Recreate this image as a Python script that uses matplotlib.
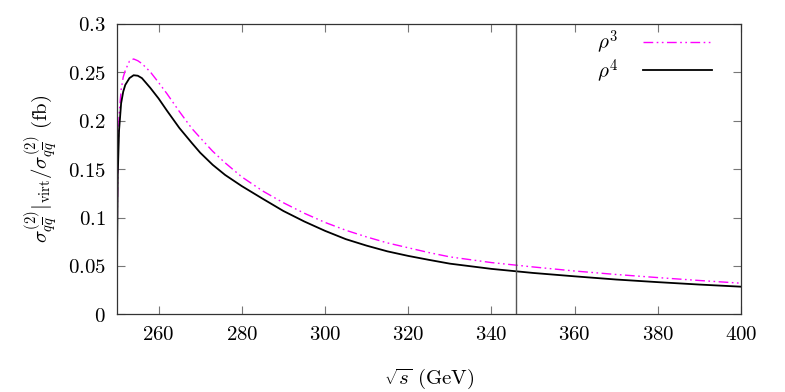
import matplotlib
matplotlib.use("Agg")
import matplotlib.pyplot as plt
from matplotlib.ticker import FixedLocator, FixedFormatter

plt.rcParams['mathtext.fontset'] = 'cm'
plt.rcParams['font.family'] = ['DejaVu Serif']

sqrt_s = [250, 250.05, 250.2, 250.5, 251, 251.5, 252, 253, 254, 255, 256, 258,
          260, 262, 265, 268, 270, 273, 276, 280, 285, 290, 295, 300, 305, 310,
          315, 320, 325, 330, 340, 350, 360, 370, 380, 390, 400]

rho3 = [0, 0.08, 0.155, 0.205, 0.232, 0.245, 0.252, 0.2615, 0.2638, 0.262, 0.259,
        0.2505, 0.2395, 0.228, 0.2095, 0.192, 0.1825, 0.1685, 0.1565, 0.142,
        0.1275, 0.1153, 0.1045, 0.095, 0.0869, 0.080, 0.0738, 0.0688, 0.0638,
        0.0594, 0.0535, 0.049, 0.0448, 0.0412, 0.0380, 0.0350, 0.0322]

rho4 = [0, 0.075, 0.145, 0.19, 0.218, 0.23, 0.237, 0.244, 0.247, 0.2465, 0.244,
        0.234, 0.223, 0.2105, 0.1925, 0.177, 0.167, 0.1545, 0.144, 0.1325,
        0.1195, 0.1068, 0.0960, 0.0863, 0.0777, 0.0710, 0.0651, 0.0604, 0.0563,
        0.0524, 0.0470, 0.0428, 0.0393, 0.0360, 0.0333, 0.0308, 0.0286]

threshold = 346

xticks = [260, 280, 300, 320, 340, 360, 380, 400]
xticklabels = ['260', '280', '300', '320', '340', '360', '380', '400']
yticks = [0, 0.05, 0.1, 0.15, 0.2, 0.25, 0.3]
yticklabels = ['0', '0.05', '0.1', '0.15', '0.2', '0.25', '0.3']

fig = plt.figure(figsize=(7.85, 3.92), dpi=100)
ax = fig.add_axes([0.149, 0.198, 0.795, 0.741])

ax.plot(sqrt_s, rho3, color='#ff00ff', lw=1.0, dashes=(7, 2.5, 1.2, 2.5, 1.2, 2.5),
        label=r'$\rho^3$')
ax.plot(sqrt_s, rho4, color='black', lw=1.3, label=r'$\rho^4$')
ax.axvline(threshold, color='#555555', lw=1.0)

ax.set_xlim(250, 400)
ax.set_ylim(0, 0.3)

ax.xaxis.set_major_locator(FixedLocator(xticks))
ax.xaxis.set_major_formatter(FixedFormatter(['$%s$' % t for t in xticklabels]))
ax.yaxis.set_major_locator(FixedLocator(yticks))
ax.yaxis.set_major_formatter(FixedFormatter(['$%s$' % t for t in yticklabels]))

ax.tick_params(direction='in', length=6, width=0.8, color='#777777',
               top=True, right=True, labelsize=15, pad=8)
for sp in ax.spines.values():
    sp.set_color('#333333')
    sp.set_linewidth(0.9)

ax.set_xlabel(r'$\sqrt{s}\ \mathrm{(GeV)}$', fontsize=15, labelpad=16)
ax.set_ylabel(r'$\sigma^{(2)}_{q\overline{q}}|_{\mathrm{virt}}/\sigma^{(2)}_{q\overline{q}}\ \mathrm{(fb)}$',
              fontsize=15, labelpad=6)

leg = ax.legend(loc='upper right', markerfirst=False, frameon=False, fontsize=15,
                handlelength=3.3, handletextpad=1.2, labelspacing=0.05,
                borderaxespad=0.2, bbox_to_anchor=(0.973, 1.028))

fig.savefig('out.png', dpi=100)
